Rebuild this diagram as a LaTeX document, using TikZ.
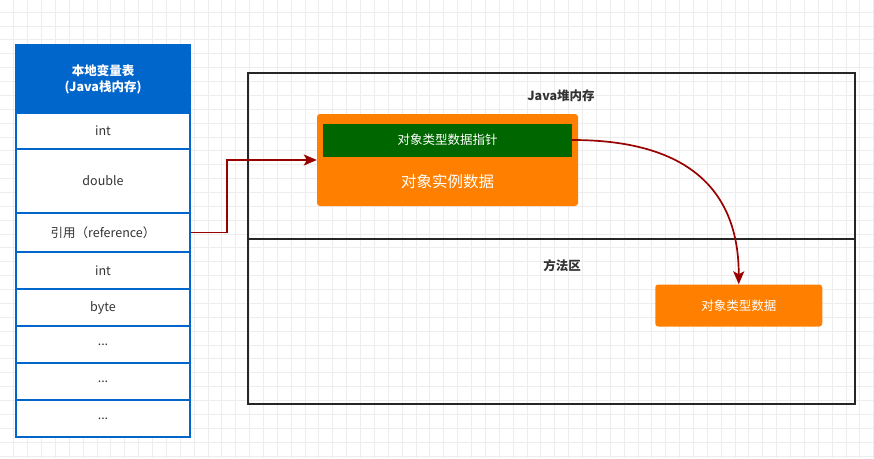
\documentclass[tikz,border=0pt]{standalone}
\usepackage{fontspec}
\setmainfont{Noto Sans CJK SC}
\usetikzlibrary{arrows.meta}

\definecolor{hdrblue}{HTML}{0066CC}
\definecolor{objorange}{HTML}{FF8000}
\definecolor{ptrgreen}{HTML}{006600}
\definecolor{refred}{HTML}{990000}
\definecolor{txtgray}{HTML}{333333}

\tikzset{
	gridline/.style = {draw = black!7, line width = 0.6pt},
	cell/.style = {rectangle, draw = hdrblue, fill = white, line width = 1.5pt,
		minimum width = 174pt, inner sep = 0pt, text = txtgray,
		font = \fontsize{12.5}{14}\selectfont},
	area/.style = {rectangle, draw = black!85, line width = 1.5pt},
	objbox/.style = {rectangle, rounded corners = 3pt, fill = objorange, inner sep = 0pt,
		text = white, font = \fontsize{12.5}{14}\selectfont},
	reflink/.style = {draw = refred, line width = 1.7pt,
		-{Stealth[length = 13pt, width = 11pt, inset = 3pt]}}
}

\begin{document}
\begin{tikzpicture}[x = 1pt, y = -1pt]
\useasboundingbox (0,0) rectangle (874,458);
\fill[white] (0,0) rectangle (874,458);
\foreach \k in {0,...,62}
	\draw[gridline] ({13.65+13.87*\k},0) -- ({13.65+13.87*\k},458);
\foreach \k in {0,...,32}
	\draw[gridline] (0,{12+13.87*\k}) -- (874,{12+13.87*\k});

\node[cell, fill = hdrblue, text = white, align = center,
	minimum height = 68pt,
	font = \fontsize{12.5}{16}\selectfont\bfseries] (hdr) at (103,79) {本地变量表\\(Java栈内存)};
\node[cell, minimum height = 36pt] (i1) at (103,131) {int};
\node[cell, minimum height = 64pt] (dbl) at (103,181) {double};
\node[cell, minimum height = 39pt] (ref) at (103,232.5) {引用（reference）};
\node[cell, minimum height = 37pt] (i2) at (103,270.5) {int};
\node[cell, minimum height = 37pt] (byt) at (103,307.5) {byte};
\node[cell, minimum height = 37pt] (e1) at (103,344.5) {...};
\node[cell, minimum height = 37pt] (e2) at (103,381.5) {...};
\node[cell, minimum height = 37pt] (e3) at (103,418.5) {...};

\node[area, minimum width = 607pt, minimum height = 331pt] (heap) at (551.5,238.5) {};
\draw[area] ([yshift = -0.5pt]heap.west) -- ([yshift = -0.5pt]heap.east);
\node[font = \fontsize{12.5}{14}\selectfont\bfseries, text = txtgray] (heaplbl) at (561,96) {Java堆内存};
\node[font = \fontsize{12.5}{14}\selectfont\bfseries, text = txtgray] (methlbl) at (562,266) {方法区};

\node[objbox, minimum width = 261pt, minimum height = 92pt] (obj) at (447.5,160) {};
\node[rectangle, fill = ptrgreen, text = white, inner sep = 0pt,
	minimum width = 249pt, minimum height = 33pt,
	font = \fontsize{12.5}{14}\selectfont] (ptr) at (447.5,140) {对象类型数据指针};
\node[yshift = -22pt, text = white, font = \fontsize{15.5}{18}\selectfont] (inst) at (obj) {对象实例数据};

\node[objbox, minimum width = 167pt, minimum height = 42pt] (meth) at (738.75,305.5) {对象类型数据};

\draw[reflink] (ref.east) -- ++(36,0) |- (obj.west);
\draw[reflink] (ptr.east) .. controls +(115,0) and +(0,-95) .. (meth.north);
\end{tikzpicture}
\end{document}
